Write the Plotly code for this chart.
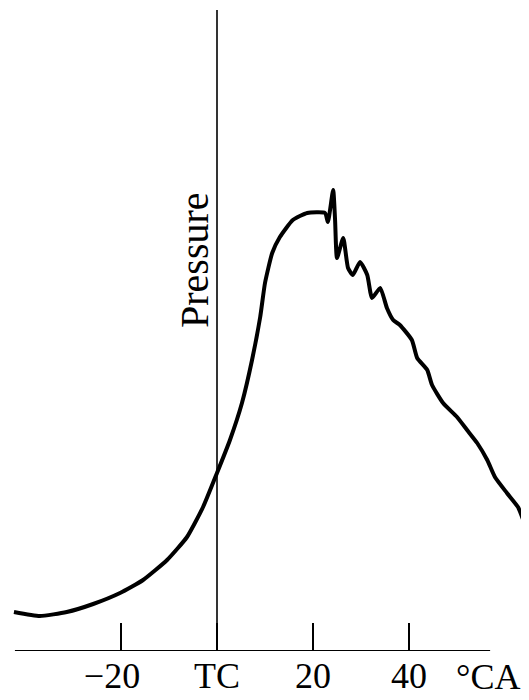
import plotly.graph_objects as go

# crank angle (degrees, TC = 0) and pressure (arbitrary units)
crank_angle = [-42.3, -36.9, -31.3, -25.8, -20.2, -15.4, -10.4, -6.25, -2.9, 0.0,
               2.7, 5.2, 7.3, 9.0, 10.0, 11.5, 13.1, 15.8, 18.8, 22.5,
               23.1, 24.2, 24.6, 25.0, 26.3, 27.3, 28.3, 29.8, 31.3, 32.3,
               34.0, 35.4, 36.7, 38.1, 40.6, 41.7, 43.8, 44.8, 47.1, 50.0,
               52.1, 54.2, 56.3, 57.9, 60.4, 62.7, 63.8]
pressure = [3.9, 3.5, 3.9, 4.7, 5.8, 7.1, 9.1, 11.4, 14.4, 17.8,
            21.1, 24.8, 29.1, 33.4, 36.8, 39.8, 41.4, 43.1, 43.8, 43.8,
            42.9, 46.1, 43.1, 39.3, 41.3, 38.3, 37.6, 38.9, 37.6, 35.3,
            36.3, 34.3, 33.1, 32.6, 31.1, 29.3, 28.1, 26.6, 24.8, 23.4,
            22.1, 20.8, 19.1, 17.4, 15.8, 14.4, 13.1]

tick_vals = [-20, 0, 20, 40]
tick_text = ["\u221220\u00a0\u00a0", "TC", "20", "40"]
unit_label = "\u00b0CA"
y_label = "Pressure"

axis_start, axis_end = -42.1, 56.9
vline_top = 64.1

FONT = "Liberation Serif"

fig = go.Figure()
fig.add_trace(go.Scatter(
    x=crank_angle, y=pressure, mode="lines",
    line=dict(color="black", width=4, shape="spline", smoothing=0.5),
    hoverinfo="skip", showlegend=False,
))

# horizontal axis line and TC vertical line
fig.add_shape(type="line", x0=axis_start, x1=axis_end, y0=0, y1=0,
              line=dict(color="black", width=2))
fig.add_shape(type="line", x0=0, x1=0, y0=0, y1=vline_top,
              line=dict(color="black", width=1.6))

fig.add_annotation(x=-4.8, y=39.1, text=y_label, textangle=-90, showarrow=False,
                   font=dict(family=FONT, size=40, color="black"))
fig.add_annotation(x=56.5, y=0, yshift=-26, text=unit_label, showarrow=False,
                   font=dict(family=FONT, size=36, color="black"))

# page body has an 8px margin, so the figure is 8px smaller than the window
fig.update_layout(
    width=521, height=692,
    margin=dict(l=0, r=0, t=0, b=49),
    paper_bgcolor="white", plot_bgcolor="white",
    xaxis=dict(range=[-209 / 4.8, 312 / 4.8], showgrid=False, zeroline=False,
               showline=False, ticks="inside", ticklen=28, tickwidth=2,
               tickcolor="black", tickvals=tick_vals, ticktext=tick_text,
               tickfont=dict(family=FONT, size=36, color="black")),
    yaxis=dict(range=[0, 64.3], showgrid=False, zeroline=False, showline=False,
               showticklabels=False, ticks=""),
)

fig.write_html("out.html")
